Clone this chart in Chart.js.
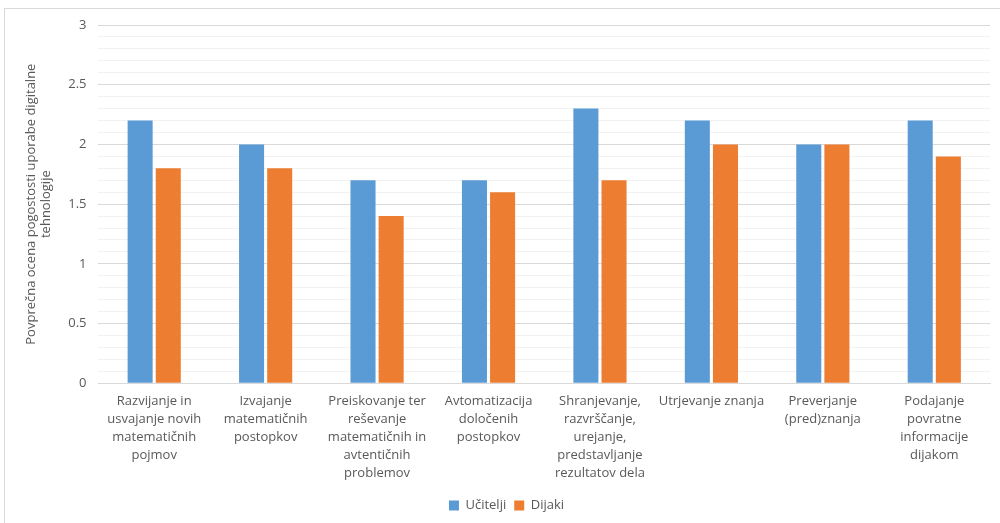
<!DOCTYPE html>
<html>
<head>
<meta charset="utf-8">
<script src="https://cdn.jsdelivr.net/npm/chart.js@4"></script>
<style>
  html, body { margin: 0; padding: 0; background: #fff; overflow: hidden; }
  #frame { position: absolute; left: 4px; top: 8px; width: 1010px; height: 530px; border: 1px solid #d9d9d9; box-sizing: border-box; }
  #wrap { position: absolute; left: 0; top: 0; width: 1000px; height: 523px; }
</style>
</head>
<body>
<div id="frame"></div>
<div id="wrap"><canvas id="c" width="1000" height="523"></canvas></div>
<script>
// Categories (multi-line labels)
const categories = [
  ["Razvijanje in", "usvajanje novih", "matematičnih", "pojmov"],
  ["Izvajanje", "matematičnih", "postopkov"],
  ["Preiskovanje ter", "reševanje", "matematičnih in", "avtentičnih", "problemov"],
  ["Avtomatizacija", "določenih", "postopkov"],
  ["Shranjevanje,", "razvrščanje,", "urejanje,", "predstavljanje", "rezultatov dela"],
  ["Utrjevanje znanja"],
  ["Preverjanje", "(pred)znanja"],
  ["Podajanje", "povratne", "informacije", "dijakom"]
];
const ucitelji = [2.2, 2.0, 1.7, 1.7, 2.3, 2.2, 2.0, 2.2];
const dijaki   = [1.8, 1.8, 1.4, 1.6, 1.7, 2.0, 2.0, 1.9];
const yTitle = ["Povprečna ocena pogostosti uporabe digitalne", "tehnologije"];

const isMajor = v => Math.abs(v * 2 - Math.round(v * 2)) < 1e-6;
const textColor = '#595959';
const font = { family: "'Open Sans', 'Noto Sans', sans-serif", size: 13, lineHeight: 1.38 };

new Chart(document.getElementById('c'), {
  type: 'bar',
  data: {
    labels: categories,
    datasets: [
      { label: 'Učitelji', data: ucitelji, backgroundColor: '#5B9BD5',
        categoryPercentage: 0.505, barPercentage: 0.89 },
      { label: 'Dijaki', data: dijaki, backgroundColor: '#ED7D31',
        categoryPercentage: 0.505, barPercentage: 0.89 }
    ]
  },
  options: {
    responsive: false,
    animation: false,
    layout: { padding: { left: 23, right: 10, top: 25, bottom: 1 } },
    plugins: {
      tooltip: { enabled: false },
      legend: {
        position: 'bottom',
        labels: { color: textColor, font: font, boxWidth: 10, boxHeight: 10, padding: 8 }
      }
    },
    scales: {
      x: {
        grid: { display: false, drawTicks: false },
        border: { color: '#d9d9d9' },
        ticks: { color: textColor, font: font, maxRotation: 0, autoSkip: false, padding: 9 }
      },
      y: {
        min: 0, max: 3,
        ticks: {
          stepSize: 0.1, autoSkip: false, color: textColor, font: font, padding: 12,
          callback: v => isMajor(v) ? String(Math.round(v * 10) / 10) : ''
        },
        grid: {
          drawTicks: false,
          color: ctx => isMajor(ctx.tick.value) ? '#d9d9d9' : '#f2f2f2'
        },
        border: { display: false },
        title: { display: true, text: yTitle, color: textColor, font: { family: font.family, size: 13, lineHeight: 1.2 }, padding: { top: 0, bottom: 2 } }
      }
    }
  }
});
</script>
</body>
</html>
